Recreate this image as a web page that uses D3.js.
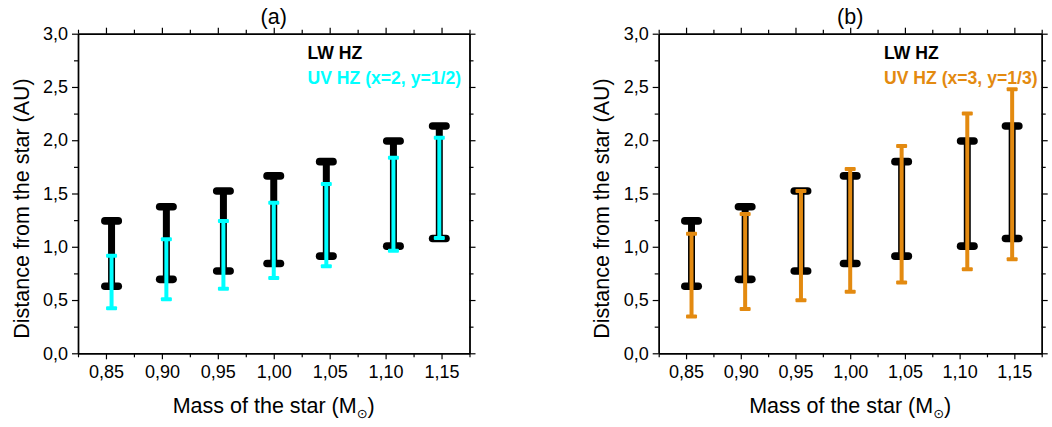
<!DOCTYPE html>
<html>
<head>
<meta charset="utf-8">
<script src="https://cdn.jsdelivr.net/npm/d3@7/dist/d3.min.js"></script>
<style>
  html, body { margin: 0; padding: 0; background: #fff; }
  svg { display: block; }
  text { font-family: "Liberation Sans", Arial, sans-serif; }
</style>
</head>
<body>
<svg id="chart" width="1052" height="427"></svg>
<script>
// ---- data ----
const masses = [0.855, 0.904, 0.955, 1.0, 1.047, 1.107, 1.148];
const lwInner = [0.630, 0.694, 0.772, 0.843, 0.912, 1.006, 1.078];
const lwOuter = [1.243, 1.376, 1.523, 1.665, 1.799, 1.993, 2.133];
const uvAInner = [0.422, 0.508, 0.607, 0.707, 0.817, 0.963, 1.083];
const uvAOuter = [0.916, 1.070, 1.243, 1.413, 1.590, 1.836, 2.024];
const uvBInner = [0.345, 0.416, 0.497, 0.577, 0.664, 0.789, 0.883];
const uvBOuter = [1.122, 1.308, 1.523, 1.730, 1.947, 2.252, 2.478];
const xTicks = [0.85, 0.90, 0.95, 1.00, 1.05, 1.10, 1.15];
const xMinor = [0.825, 0.875, 0.925, 0.975, 1.025, 1.075, 1.125, 1.175];
const yTicks = [0, 0.5, 1.0, 1.5, 2.0, 2.5, 3.0];
const yMinor = [0.25, 0.75, 1.25, 1.75, 2.25, 2.75];
const panelTitles = ["(a)", "(b)"];
const legendLW = "LW HZ";
const legendUV = ["UV HZ (x=2, y=1/2)", "UV HZ (x=3, y=1/3)"];
const uvColors = ["#00FFFF", "#E38A10"];

const svg = d3.select("#chart");
const fmt = d => d3.format(".2f")(d).replace(".", ",");
const fmtY = d => d3.format(".1f")(d).replace(".", ",");

const panels = [
  { left: 78, right: 469.5, inner: uvAInner, outer: uvAOuter, legendX: 307.5, ylabX: 22 },
  { left: 658.7, right: 1041.7, inner: uvBInner, outer: uvBOuter, legendX: 884, ylabX: 602 }
];
const plotTop = 33.7, plotBottom = 353.3;

panels.forEach((p, i) => {
  const x = d3.scaleLinear().domain([0.825, 1.175]).range([p.left, p.right]);
  const y = d3.scaleLinear().domain([0, 3]).range([plotBottom, plotTop]);
  const g = svg.append("g");

  const styleAxis = sel => {
    sel.selectAll(".domain").attr("stroke", "#000").attr("stroke-width", 1.4);
    sel.selectAll(".tick line").attr("stroke", "#000").attr("stroke-width", 1.2);
  };
  const styleText = s => s.selectAll("text").attr("font-size", 18).attr("fill", "#000")
    .attr("font-family", "Liberation Sans, Arial, sans-serif");

  g.append("g").attr("transform", `translate(0,${plotBottom})`)
    .call(d3.axisBottom(x).tickValues(xTicks).tickFormat(fmt).tickSize(6).tickSizeOuter(0).tickPadding(6))
    .call(styleAxis).call(styleText);
  g.append("g").attr("transform", `translate(0,${plotBottom})`)
    .call(d3.axisBottom(x).tickValues(xMinor).tickFormat("").tickSize(4).tickSizeOuter(0))
    .call(styleAxis);
  g.append("g").attr("transform", `translate(0,${plotTop})`)
    .call(d3.axisTop(x).tickValues(xTicks).tickFormat("").tickSize(6).tickSizeOuter(0))
    .call(styleAxis);
  g.append("g").attr("transform", `translate(0,${plotTop})`)
    .call(d3.axisTop(x).tickValues(xMinor).tickFormat("").tickSize(4).tickSizeOuter(0))
    .call(styleAxis);
  g.append("g").attr("transform", `translate(${p.left},0)`)
    .call(d3.axisLeft(y).tickValues(yTicks).tickFormat(fmtY).tickSize(6).tickSizeOuter(0).tickPadding(4))
    .call(styleAxis).call(styleText);
  g.append("g").attr("transform", `translate(${p.left},0)`)
    .call(d3.axisLeft(y).tickValues(yMinor).tickFormat("").tickSize(4).tickSizeOuter(0))
    .call(styleAxis);
  g.append("g").attr("transform", `translate(${p.right},0)`)
    .call(d3.axisRight(y).tickValues(yTicks).tickFormat("").tickSize(6).tickSizeOuter(0))
    .call(styleAxis);
  g.append("g").attr("transform", `translate(${p.right},0)`)
    .call(d3.axisRight(y).tickValues(yMinor).tickFormat("").tickSize(4).tickSizeOuter(0))
    .call(styleAxis);

  // LW HZ bars (black)
  const lw = g.append("g");
  masses.forEach((m, k) => {
    const cx = x(m);
    lw.append("line").attr("x1", cx).attr("x2", cx)
      .attr("y1", y(lwInner[k])).attr("y2", y(lwOuter[k]))
      .attr("stroke", "#000").attr("stroke-width", 7);
    [lwInner[k], lwOuter[k]].forEach(v => {
      lw.append("rect").attr("x", cx - 10.5).attr("y", y(v) - 3.8)
        .attr("width", 21).attr("height", 7.6).attr("rx", 3.8).attr("fill", "#000");
    });
  });

  // UV HZ bars (colored)
  const uv = g.append("g");
  masses.forEach((m, k) => {
    const cx = x(m);
    uv.append("line").attr("x1", cx).attr("x2", cx)
      .attr("y1", y(p.inner[k])).attr("y2", y(p.outer[k]))
      .attr("stroke", uvColors[i]).attr("stroke-width", 4);
    [p.inner[k], p.outer[k]].forEach(v => {
      uv.append("rect").attr("x", cx - 5.5).attr("y", y(v) - 2)
        .attr("width", 11).attr("height", 4).attr("rx", 1).attr("fill", uvColors[i]);
    });
  });

  // legend
  g.append("text").attr("x", p.legendX).attr("y", 58.5)
    .attr("font-size", 17.6).attr("font-weight", "bold").attr("fill", "#000").text(legendLW);
  g.append("text").attr("x", p.legendX).attr("y", 83.5)
    .attr("font-size", 17.6).attr("font-weight", "bold").attr("fill", uvColors[i]).text(legendUV[i]);

  // title
  g.append("text").attr("x", (p.left + p.right) / 2).attr("y", 24)
    .attr("text-anchor", "middle").attr("font-size", 21.5).attr("fill", "#000").text(panelTitles[i]);

  // y label
  g.append("text").attr("transform", `translate(${p.ylabX + 7},208.5) rotate(-90)`)
    .attr("text-anchor", "middle").attr("font-size", 21.5).attr("fill", "#000")
    .text("Distance from the star (AU)");

  // x label
  const xl = g.append("text").attr("x", (p.left + p.right) / 2).attr("y", 413)
    .attr("text-anchor", "middle").attr("font-size", 21.5).attr("fill", "#000");
  xl.append("tspan").text("Mass of the star (M");
  xl.append("tspan").attr("font-size", 13).attr("dy", 5).attr("font-family", "DejaVu Sans").text("\u2299");
  xl.append("tspan").attr("dy", -5).text(")");
});
</script>
</body>
</html>
